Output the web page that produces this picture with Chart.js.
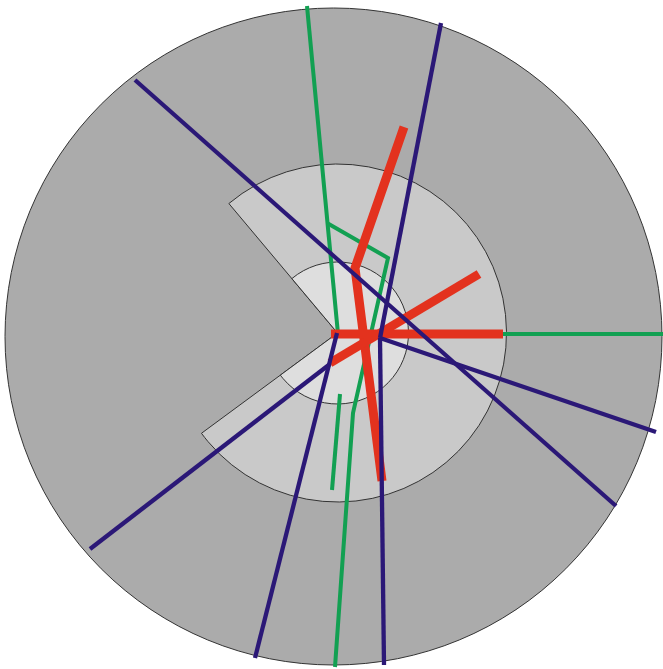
<!DOCTYPE html>
<html>
<head>
<meta charset="utf-8">
<script src="https://cdn.jsdelivr.net/npm/chart.js@4"></script>
<style>
  html, body { margin: 0; padding: 0; background: #ffffff; }
  #wrap { width: 663px; height: 669px; }
</style>
</head>
<body>
<div id="wrap"><canvas id="c" width="663" height="669"></canvas></div>
<script>
// ---- data (picture coordinates) ----
const purpleSegments = [
  [[135, 80], [616, 506]],
  [[441, 23], [380, 338]],
  [[380, 338], [656, 432]],
  [[380, 338], [384, 665]],
  [[337, 333], [255, 658]],
  [[330, 364], [90, 549]]
];
const redSegments = [
  [[331, 334], [503, 334]],
  [[330, 363], [479, 274]],
  [[404, 127], [355, 268], [382, 481]]
];
const greenSegments = [
  [[307, 6], [338, 334]],
  [[327, 223], [388, 258], [353, 413], [335, 667]],
  [[340, 394], [332, 490]],
  [[503, 334], [663, 334]]
];
// background disc and sectors: centre, radius, start/end angle (degrees, canvas orientation)
const discCentre = [333.5, 336.5];
const discRadius = 328.5;
const sectorCentre = [337.5, 333];
const sectorRadii = [169, 71];
const sectorAngles = [-130, 143.6];

const COLORS = {
  purple: '#2b1877',
  red: '#e3321e',
  green: '#12a052',
  disc: '#ababab',
  sectors: ['#c9c9c9', '#dedede'],
  outline: '#333333'
};

function toDatasets(segments, color, width, order) {
  return segments.map(seg => ({
    data: seg.map(p => ({ x: p[0], y: p[1] })),
    showLine: true,
    borderColor: color,
    backgroundColor: color,
    borderWidth: width,
    pointRadius: 0,
    pointHoverRadius: 0,
    fill: false,
    tension: 0,
    borderCapStyle: 'butt',
    borderJoinStyle: 'miter',
    order: order
  }));
}

const backgroundPlugin = {
  id: 'discs',
  beforeDatasetsDraw(chart) {
    const ctx = chart.ctx;
    const xs = chart.scales.x, ys = chart.scales.y;
    const px = v => xs.getPixelForValue(v);
    const py = v => ys.getPixelForValue(v);
    const rad = d => d * Math.PI / 180;
    ctx.save();
    // outer disc
    const cx = px(discCentre[0]), cy = py(discCentre[1]);
    const r = px(discCentre[0] + discRadius) - cx;
    ctx.beginPath();
    ctx.arc(cx, cy, r, 0, Math.PI * 2);
    ctx.fillStyle = COLORS.disc;
    ctx.fill();
    ctx.lineWidth = 1;
    ctx.strokeStyle = COLORS.outline;
    ctx.stroke();
    // sectors
    const sx = px(sectorCentre[0]), sy = py(sectorCentre[1]);
    sectorRadii.forEach((sr, i) => {
      const rr = px(sectorCentre[0] + sr) - sx;
      ctx.beginPath();
      ctx.moveTo(sx, sy);
      ctx.arc(sx, sy, rr, rad(sectorAngles[0]), rad(sectorAngles[1]), false);
      ctx.closePath();
      ctx.fillStyle = COLORS.sectors[i];
      ctx.fill();
      ctx.lineWidth = 1;
      ctx.strokeStyle = COLORS.outline;
      ctx.stroke();
    });
    ctx.restore();
  }
};

const datasets = [].concat(
  toDatasets(greenSegments, COLORS.green, 4, 3),
  toDatasets(redSegments, COLORS.red, 9, 2),
  toDatasets(purpleSegments, COLORS.purple, 4.3, 1)
);

new Chart(document.getElementById('c'), {
  type: 'scatter',
  data: { datasets },
  plugins: [backgroundPlugin],
  options: {
    responsive: false,
    animation: false,
    devicePixelRatio: 1,
    layout: { padding: 0 },
    plugins: { legend: { display: false }, tooltip: { enabled: false } },
    events: [],
    scales: {
      x: { type: 'linear', min: 0, max: 663, display: false },
      y: { type: 'linear', min: 0, max: 669, reverse: true, display: false }
    }
  }
});
</script>
</body>
</html>
